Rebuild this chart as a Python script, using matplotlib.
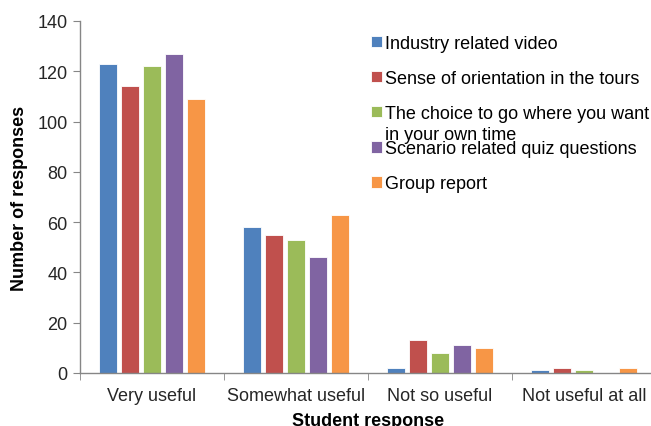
import numpy as np
import matplotlib
matplotlib.use("Agg")
import matplotlib.pyplot as plt

plt.rcParams['font.family'] = ['Liberation Sans', 'DejaVu Sans']

categories = ['Very useful', 'Somewhat useful', 'Not so useful', 'Not useful at all']
series = ['Industry related video',
          'Sense of orientation in the tours',
          'The choice to go where you want',
          'Scenario related quiz questions',
          'Group report']
video = [123, 58, 2, 1]
orientation = [114, 55, 13, 2]
choice = [122, 53, 8, 1]
quiz = [127, 46, 11, 0]
report = [109, 63, 10, 2]
colors = ['#4F81BD', '#C0504D', '#9BBB59', '#8064A2', '#F79646']

values = [video, orientation, choice, quiz, report]

fig = plt.figure(figsize=(6.51, 4.27), dpi=100)
ax = fig.add_axes([80/651, 53/427, 576/651, 352/427])

ind = np.arange(len(categories))
pitch = 0.153
width = 0.122
for i, (vals, c, lab) in enumerate(zip(values, colors, series)):
    ax.bar(ind + (i - 2) * pitch, vals, width, color=c, label=lab,
           edgecolor='white', linewidth=0.6)

ax.set_xlim(-0.5, 3.5)
ax.set_ylim(0, 140)
ax.set_yticks(range(0, 141, 20))
ax.set_xticks(ind)
ax.set_xticklabels(categories)
ax.set_xticks(np.arange(-0.5, 3.6, 1), minor=True)

for s in ['top', 'right']:
    ax.spines[s].set_visible(False)
for s in ['left', 'bottom']:
    ax.spines[s].set_color('#868686')
    ax.spines[s].set_linewidth(1.0)

ax.tick_params(axis='x', which='major', length=0, pad=10, labelsize=13, colors='#262626')
ax.tick_params(axis='x', which='minor', length=5, color='#868686', direction='out')
ax.tick_params(axis='y', length=5, color='#868686', pad=4, labelsize=13, labelcolor='#262626')

ax.set_ylabel('Number of responses', fontsize=13, fontweight='bold')
ax.yaxis.set_label_coords(-0.090, 0.5)
ax.set_xlabel('Student response', fontsize=13, fontweight='bold')
ax.xaxis.set_label_coords(0.5, -0.112)

leg = ax.legend(loc='upper left', bbox_to_anchor=(371/651, (427-36)/427),
                bbox_transform=fig.transFigure, frameon=False, fontsize=13,
                handlelength=0.6, handleheight=0.6, handletextpad=0.15,
                labelspacing=1.0, borderpad=0, borderaxespad=0)

# second line of the wrapped legend entry
fig.canvas.draw()
bb = leg.get_texts()[2].get_window_extent()
fig.text(bb.x0 / 651, (bb.y0 + bb.y1) / 2 / 427 - 21/427, 'in your own time',
         fontsize=13, va='center', ha='left', color='black')

fig.savefig('out.png', dpi=100)
